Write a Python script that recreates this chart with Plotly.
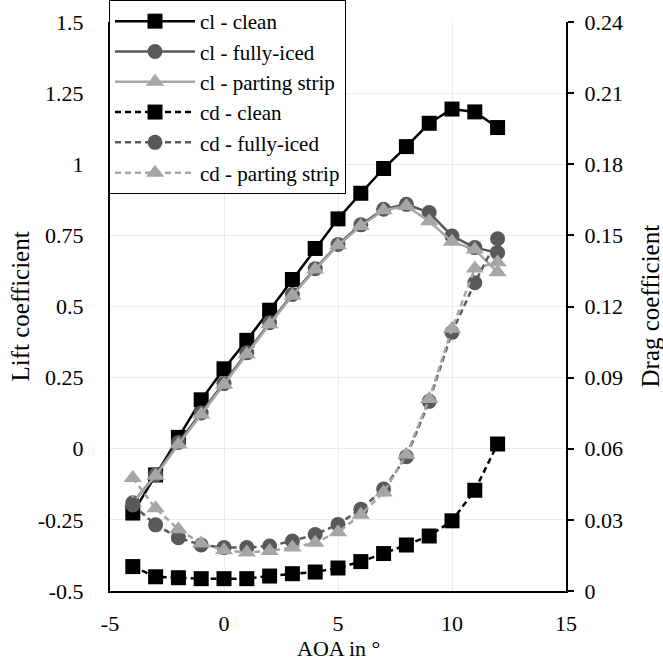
import plotly.graph_objects as go

aoa = [-4, -3, -2, -1, 0, 1, 2, 3, 4, 5, 6, 7, 8, 9, 10, 11, 12]

cl_clean = [-0.226, -0.092, 0.04, 0.172, 0.281, 0.381, 0.487, 0.595, 0.704, 0.808, 0.898, 0.985, 1.062, 1.144, 1.194, 1.184, 1.129]
cl_iced = [-0.19, -0.092, 0.022, 0.126, 0.229, 0.337, 0.443, 0.542, 0.633, 0.718, 0.787, 0.842, 0.859, 0.830, 0.748, 0.707, 0.689]
cl_strip = [-0.19, -0.095, 0.015, 0.12, 0.225, 0.332, 0.438, 0.538, 0.63, 0.715, 0.783, 0.838, 0.853, 0.800, 0.728, 0.700, 0.620]

cd_clean = [0.0103, 0.006, 0.0056, 0.0052, 0.0052, 0.0052, 0.0063, 0.0073, 0.0080, 0.0097, 0.0124, 0.0158, 0.0194, 0.0232, 0.0296, 0.0425, 0.062]
cd_iced = [0.0363, 0.0279, 0.0225, 0.0194, 0.0183, 0.0183, 0.019, 0.0211, 0.0238, 0.0281, 0.0345, 0.043, 0.0566, 0.080, 0.1091, 0.130, 0.1486]
cd_strip = [0.0477, 0.0349, 0.026, 0.020, 0.0172, 0.0162, 0.0169, 0.0183, 0.0204, 0.0248, 0.0322, 0.0415, 0.0575, 0.081, 0.1106, 0.136, 0.1387]

x_ticks = [-5, 0, 5, 10, 15]
cl_ticks = [-0.5, -0.25, 0, 0.25, 0.5, 0.75, 1, 1.25, 1.5]
cd_ticks = [0, 0.03, 0.06, 0.09, 0.12, 0.15, 0.18, 0.21, 0.24]

x_title = "AOA in °"
cl_title = "Lift coefficient"
cd_title = "Drag coefficient"

BLACK = "#000000"
DARK = "#595959"
LIGHT = "#A6A6A6"
FONT = "Liberation Serif, Times New Roman, Times, serif"
DASH = "6px,4px"

series = [
    ("cl - clean", cl_clean, "y", BLACK, "square", "solid"),
    ("cl - fully-iced", cl_iced, "y", DARK, "circle", "solid"),
    ("cl - parting strip", cl_strip, "y", LIGHT, "triangle-up", "solid"),
    ("cd - clean", cd_clean, "y2", BLACK, "square", DASH),
    ("cd - fully-iced", cd_iced, "y2", DARK, "circle", DASH),
    ("cd - parting strip", cd_strip, "y2", LIGHT, "triangle-up", DASH),
]

fig = go.Figure()
for i, (name, vals, ax, col, sym, dash) in enumerate(series):
    fig.add_trace(go.Scatter(
        x=aoa, y=vals, name=name, yaxis=ax, mode="lines+markers",
        line=dict(color=col, width=2.5, dash=dash),
        marker=dict(symbol=sym, size=15 if sym != "triangle-up" else 16, color=col, line=dict(width=0)),
        legendgroup=f"g{i}",
    ))

tick_font = dict(family=FONT, size=22, color="black")

fig.update_layout(
    template="none",
    width=663, height=664,
    margin=dict(l=110, r=97, t=22, b=73, autoexpand=False),
    paper_bgcolor="white", plot_bgcolor="white",
    font=dict(family=FONT, size=22, color="black"),
    showlegend=True,
    legend=dict(
        xref="container", yref="container",
        x=109 / 663, y=1.0, xanchor="left", yanchor="top",
        bgcolor="white", bordercolor="black", borderwidth=1,
        font=dict(family=FONT, size=21, color="black"),
        tracegroupgap=0, itemwidth=80,
    ),
    xaxis=dict(
        range=[-5, 15], tickvals=x_ticks, ticktext=[str(v) for v in x_ticks],
        showgrid=True, gridcolor="#EBEBEB", gridwidth=1,
        showline=True, linecolor="black", linewidth=2,
        zeroline=False, ticks="", ticklabelstandoff=12,
        tickfont=tick_font,
    ),
    yaxis=dict(
        range=[-0.5, 1.5], tickvals=cl_ticks, ticktext=[f"{v:g}" for v in cl_ticks],
        showgrid=True, gridcolor="#EBEBEB", gridwidth=1,
        showline=True, linecolor="black", linewidth=2,
        zeroline=False, ticks="", ticklabelstandoff=20,
        tickfont=tick_font,
    ),
    yaxis2=dict(
        range=[0, 0.24], tickvals=cd_ticks, ticktext=[f"{v:g}" for v in cd_ticks],
        overlaying="y", side="right", showgrid=False,
        showline=True, linecolor="black", linewidth=2,
        zeroline=False, ticks="outside", ticklen=6, tickwidth=2, tickcolor="black",
        ticklabelstandoff=6,
        tickfont=tick_font,
    ),
    annotations=[
        dict(text=x_title, xref="paper", yref="paper", x=0.5, y=0, yshift=-57,
             showarrow=False, font=dict(family=FONT, size=22, color="black"), xanchor="center", yanchor="middle"),
        dict(text=cl_title, xref="paper", yref="paper", x=0, y=0.5, xshift=-90, textangle=-90,
             showarrow=False, font=dict(family=FONT, size=25, color="black"), xanchor="center", yanchor="middle"),
        dict(text=cd_title, xref="paper", yref="paper", x=1, y=0.5, xshift=84, textangle=-90,
             showarrow=False, font=dict(family=FONT, size=25, color="black"), xanchor="center", yanchor="middle"),
    ],
)

fig.write_html("out.html")
